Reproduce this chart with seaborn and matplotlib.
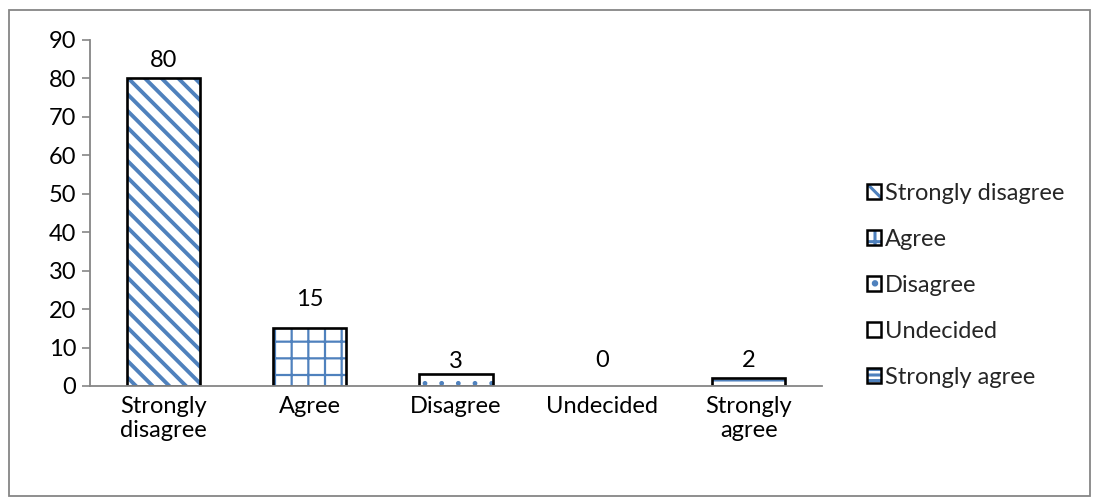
import matplotlib
matplotlib.use("Agg")
import matplotlib.pyplot as plt
from matplotlib.patches import Patch, Rectangle
from matplotlib.legend_handler import HandlerTuple
import seaborn as sns
import pandas as pd

categories = ["Strongly disagree", "Agree", "Disagree", "Undecided", "Strongly agree"]
tick_labels = ["Strongly\ndisagree", "Agree", "Disagree", "Undecided", "Strongly\nagree"]
values = [80, 15, 3, 0, 2]

# per-bar styling
hatches = ["\\\\", "+", ".", "", "---"]
hatch_widths = [2.8, 1.6, 1.0, 1.0, 1.4]
label_pads = [5, 13, 2, 11, 5]  # points between bar top and its value label

sns.set_theme(style="white")
plt.rcParams["font.family"] = ["Lato", "DejaVu Sans"]
plt.rcParams["hatch.linewidth"] = 2.2

BLUE = "#4F81BD"
GRAY = "#868686"
FS = 17

df = pd.DataFrame({"category": categories, "value": values})

fig = plt.figure(figsize=(10.93, 4.99), dpi=100)
ax = fig.add_axes([0.0823, 0.2265, 0.6697, 0.6934])

# hatched fill layer
sns.barplot(data=df, x="category", y="value", ax=ax, color="white",
            width=0.5, linewidth=0, edgecolor=BLUE, saturation=1)
for bar, h, hw in zip(list(ax.patches), hatches, hatch_widths):
    bar.set_hatch(h)
    bar.set_edgecolor(BLUE)
    bar.set_facecolor("white")
    if hasattr(bar, "set_hatch_linewidth"):
        bar.set_hatch_linewidth(hw)
    elif hasattr(bar, "_hatch_linewidth"):
        bar._hatch_linewidth = hw

# black outline layer
sns.barplot(data=df, x="category", y="value", ax=ax, fill=False,
            width=0.5, linewidth=1.9, edgecolor="black")
outline = ax.containers[-1]
for bar, v, pad in zip(outline, values, label_pads):
    if v == 0:
        bar.set_linewidth(0)
    ax.annotate(str(v), xy=(bar.get_x() + bar.get_width() / 2, bar.get_height()),
                xytext=(0, pad), textcoords="offset points",
                ha="center", va="bottom", fontsize=FS, color="black")

ax.set_ylim(0, 90)
ax.set_yticks(range(0, 91, 10))
ax.set_xlim(-0.5, len(categories) - 0.5)
ax.set_xticks(range(len(categories)))
ax.set_xticklabels(tick_labels, fontsize=FS, color="black", linespacing=1.2)
ax.set_xticks([i - 0.5 for i in range(len(categories) + 1)], minor=True)
ax.tick_params(axis="x", which="major", length=0, pad=7)
ax.tick_params(axis="x", which="minor", length=6, width=1.2, color=GRAY, direction="out")
ax.tick_params(axis="y", length=6, width=1.2, color=GRAY, direction="out",
               labelsize=FS, labelcolor="black", left=True, pad=4)
ax.set_xlabel("")
ax.set_ylabel("")
for side in ["top", "right"]:
    ax.spines[side].set_visible(False)
for side in ["left", "bottom"]:
    ax.spines[side].set_color(GRAY)
    ax.spines[side].set_linewidth(1.3)

handles = []
for h in hatches:
    handles.append((Patch(facecolor="white", edgecolor=BLUE, hatch=h, linewidth=0),
                    Patch(facecolor="none", edgecolor="black", linewidth=1.8)))
ax.legend(handles, categories, handler_map={tuple: HandlerTuple(ndivide=1)},
          loc="center left", bbox_to_anchor=(1.062, 0.29), frameon=False,
          fontsize=FS, handlelength=0.6, handleheight=0.6, handletextpad=0.15,
          labelspacing=1.06, borderaxespad=0, borderpad=0)

fig.patches.append(Rectangle((9 / 1093, 1 - 496 / 499), 1081 / 1093, 486 / 499,
                             transform=fig.transFigure, fill=False,
                             edgecolor=GRAY, linewidth=1.3))

fig.savefig("out.png", dpi=100)
